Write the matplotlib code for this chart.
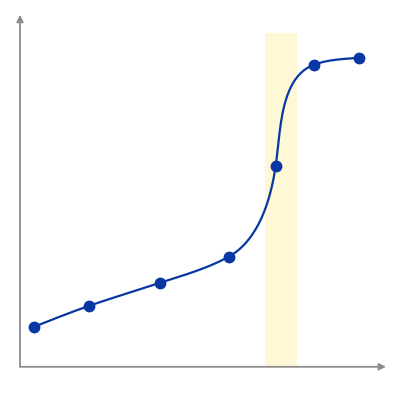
import matplotlib
matplotlib.use("Agg")
import matplotlib.pyplot as plt
import numpy as np

# point positions (axis units, origin at the axis corner)
x_vals = [14, 69, 140, 208, 255, 293, 338]
y_vals = [40, 61, 84, 110, 201, 302, 309]
# slope of the drawn curve at each point
tangent_slopes = [0.40, 0.35, 0.33, 0.55, 7.0, 0.38, 0.08]

# highlighted band
band_x = [244, 276]
band_top = 334

x_max = 365
y_max = 352

line_color = "#0836a4"
band_color = "#fff8d6"
axis_color = "#8c8c8c"


def hermite_curve(x, y, slopes, steps=80):
    # parametric cubic hermite so the curve can go (nearly) vertical
    pts = np.column_stack([x, y]).astype(float)
    dirs = np.column_stack([np.ones(len(slopes)), slopes])
    dirs = dirs / np.linalg.norm(dirs, axis=1)[:, None]
    u = np.linspace(0, 1, steps)[:, None]
    h00 = 2 * u**3 - 3 * u**2 + 1
    h10 = u**3 - 2 * u**2 + u
    h01 = -2 * u**3 + 3 * u**2
    h11 = u**3 - u**2
    out = []
    for i in range(len(pts) - 1):
        chord = np.linalg.norm(pts[i + 1] - pts[i])
        seg = (h00 * pts[i] + h10 * chord * dirs[i]
               + h01 * pts[i + 1] + h11 * chord * dirs[i + 1])
        out.append(seg)
    out = np.vstack(out)
    return out[:, 0], out[:, 1]


fig = plt.figure(figsize=(4, 4), dpi=100)
ax = fig.add_axes([0.05, 0.083, 0.915, 0.88])
ax.set_xlim(0, x_max)
ax.set_ylim(0, y_max)
ax.axis("off")

# yellow band
ax.fill_between(band_x, 0, band_top, color=band_color, linewidth=0, zorder=1)

# curve + points
cx, cy = hermite_curve(x_vals, y_vals, tangent_slopes)
ax.plot(cx, cy, color=line_color, linewidth=1.6, zorder=3)
ax.plot(x_vals, y_vals, "o", color=line_color, markersize=7.5, zorder=4)

# axes with arrow heads
arrow = dict(arrowstyle="-|>", color=axis_color, lw=1.3, mutation_scale=10,
             shrinkA=0, shrinkB=0)
ax.annotate("", xy=(1, 0), xytext=(0, 0), xycoords="axes fraction",
            textcoords="axes fraction", arrowprops=arrow)
ax.annotate("", xy=(0, 1), xytext=(0, 0), xycoords="axes fraction",
            textcoords="axes fraction", arrowprops=arrow)

fig.savefig("out.png", dpi=100, facecolor="white")
